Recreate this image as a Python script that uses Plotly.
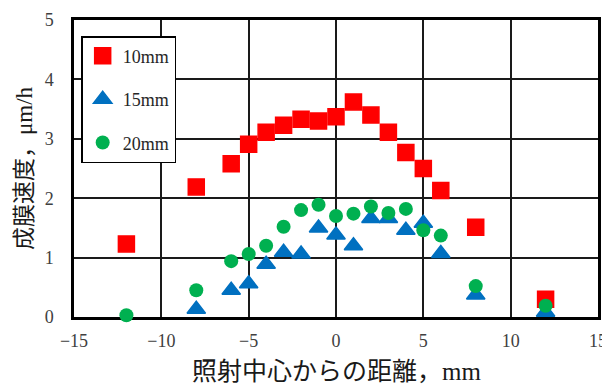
import plotly.graph_objects as go

# distance from irradiation centre (mm)
x10 = [-12, -8, -6, -5, -4, -3, -2, -1, 0, 1, 2, 3, 4, 5, 6, 8, 12]
y10 = [1.23, 2.19, 2.58, 2.91, 3.11, 3.23, 3.33, 3.30, 3.37, 3.62, 3.40, 3.11, 2.77, 2.50, 2.13, 1.51, 0.30]

x15 = [-8, -6, -5, -4, -3, -2, -1, 0, 1, 2, 3, 4, 5, 6, 8, 12]
y15 = [0.13, 0.45, 0.56, 0.89, 1.09, 1.06, 1.50, 1.38, 1.20, 1.66, 1.66, 1.46, 1.58, 1.07, 0.37, 0.08]

x20 = [-12, -8, -6, -5, -4, -3, -2, -1, 0, 1, 2, 3, 4, 5, 6, 8, 12]
y20 = [0.03, 0.45, 0.94, 1.06, 1.20, 1.52, 1.80, 1.89, 1.70, 1.74, 1.86, 1.75, 1.82, 1.46, 1.37, 0.52, 0.19]

series_names = ["10mm", "15mm", "20mm"]
x_ticks = [-15, -10, -5, 0, 5, 10, 15]
y_ticks = [0, 1, 2, 3, 4, 5]
x_title = "照射中心からの距離，<span style='font-family:Liberation Serif'>mm</span>"
y_title = "成膜速度，<span style='font-family:Liberation Serif'>μm/h</span>"

SERIF = "Liberation Serif"
CJK = "Noto Sans CJK JP"

fig = go.Figure()
fig.add_trace(go.Scatter(x=x10, y=y10, mode="markers", name=series_names[0], legendgroup="a",
                         marker=dict(symbol="square", size=16, color="#FF0000",
                                     line=dict(color="#FF0000", width=1.5)),
                         cliponaxis=False))
fig.add_trace(go.Scatter(x=x15, y=y15, mode="markers", name=series_names[1], legendgroup="b",
                         marker=dict(symbol="triangle-up", size=16, color="#0070C0",
                                     line=dict(color="#0070C0", width=1.5)),
                         cliponaxis=False))
fig.add_trace(go.Scatter(x=x20, y=y20, mode="markers", name=series_names[2], legendgroup="c",
                         marker=dict(symbol="circle", size=14, color="#00B050",
                                     line=dict(width=0)),
                         cliponaxis=False))

# page body has an 8px margin, so the figure is 8px smaller than the window
fig.update_layout(
    width=602, height=379,
    margin=dict(l=65.5, r=12, t=12, b=70),
    paper_bgcolor="white", plot_bgcolor="white",
    showlegend=True,
    legend=dict(x=0.0137, y=0.946, xanchor="left", yanchor="top",
                bgcolor="white", bordercolor="black", borderwidth=1.5,
                font=dict(family=SERIF, size=18, color="#262626"),
                tracegroupgap=17, itemsizing="trace"),
    font=dict(family=SERIF, color="#404040"),
    annotations=[
        dict(text=x_title, xref="paper", yref="paper", x=0.5, y=-0.175,
             xanchor="center", yanchor="middle", showarrow=False,
             font=dict(family=CJK, size=25, color="#1a1a1a")),
        dict(text=y_title, xref="paper", yref="paper", x=-0.1001, y=0.5,
             xanchor="center", yanchor="middle", showarrow=False, textangle=-90,
             font=dict(family=CJK, size=23, color="#1a1a1a")),
    ],
)

fig.update_xaxes(range=[-15, 15], tickvals=x_ticks, showgrid=True, gridcolor="#1a1a1a", gridwidth=1.8,
                 zeroline=False, showline=True, linecolor="black", linewidth=2.5, mirror=True,
                 ticks="", ticklabelstandoff=6, tickfont=dict(family=SERIF, size=18, color="#404040"),
                 layer="below traces", automargin=False)
fig.update_yaxes(range=[0, 5], tickvals=y_ticks, showgrid=True, gridcolor="#1a1a1a", gridwidth=1.8,
                 zeroline=False, showline=True, linecolor="black", linewidth=2.5, mirror=True,
                 ticks="", ticklabelstandoff=14, tickfont=dict(family=SERIF, size=18, color="#404040"),
                 layer="below traces", automargin=False)

fig.write_html("out.html")
